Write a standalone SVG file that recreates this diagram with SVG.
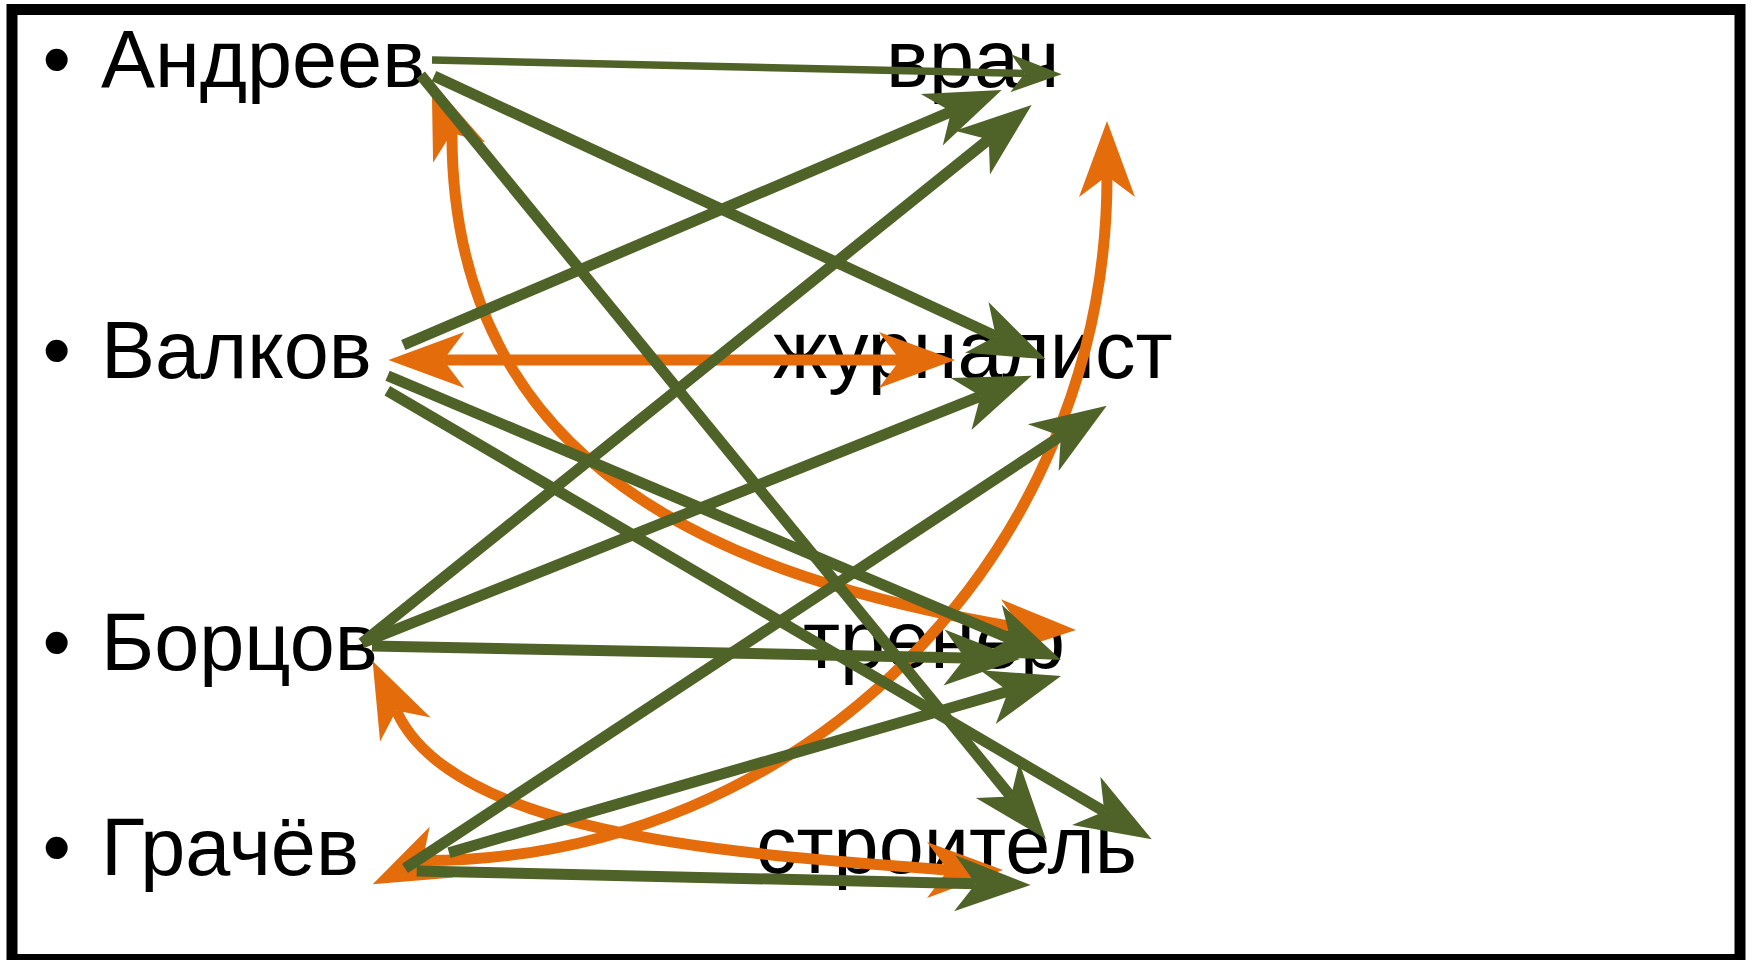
<svg xmlns="http://www.w3.org/2000/svg" width="1754" height="960" viewBox="0 0 1754 960">
  <style>
    .lbl { font-family: "Liberation Sans", Arial, sans-serif; font-size: 81px; fill: #000000; }
    .g { fill: none; stroke: #4F6228; stroke-width: 11; marker-end: url(#ag); }
    .gt { fill: none; stroke: #4F6228; stroke-width: 7.5; marker-end: url(#ags); }
    .o { fill: none; stroke: #E46C0A; stroke-width: 11; marker-start: url(#ao); marker-end: url(#ao); }
  </style>
  <defs>
    <marker id="ag" viewBox="-21 -28 76 56" refX="0" refY="0" markerWidth="76" markerHeight="56" markerUnits="userSpaceOnUse" orient="auto-start-reverse" overflow="visible">
      <path d="M55,0 L-21,-28 L0,0 L-21,28 Z" fill="#4F6228"/>
    </marker>
    <marker id="ags" viewBox="-14 -19 51 38" refX="0" refY="0" markerWidth="51" markerHeight="38" markerUnits="userSpaceOnUse" orient="auto-start-reverse" overflow="visible">
      <path d="M37,0 L-14,-19 L0,0 L-14,19 Z" fill="#4F6228"/>
    </marker>
    <marker id="ao" viewBox="-21 -28 76 56" refX="0" refY="0" markerWidth="76" markerHeight="56" markerUnits="userSpaceOnUse" orient="auto-start-reverse" overflow="visible">
      <path d="M55,0 L-21,-28 L0,0 L-21,28 Z" fill="#E46C0A"/>
    </marker>
  </defs>
  <rect x="0" y="0" width="1754" height="960" fill="#FFFFFF"/>
  <rect id="frame" x="12" y="9.5" width="1728" height="950" fill="none" stroke="#000000" stroke-width="11"/>

  <g id="andreev"><text class="lbl" x="42.5" y="87">•</text><text class="lbl" x="101" y="87">Андреев</text></g>
  <g id="valkov"><text class="lbl" x="42.5" y="378">•</text><text class="lbl" x="101" y="378">Валков</text></g>
  <g id="bortsov"><text class="lbl" x="42.5" y="670">•</text><text class="lbl" x="101" y="670">Борцов</text></g>
  <g id="grachev"><text class="lbl" x="42.5" y="875">•</text><text class="lbl" x="101" y="875">Грачёв</text></g>

  <g id="vrach"><text class="lbl" x="886" y="87">врач</text></g>
  <g id="zhurnalist"><text class="lbl" x="773" y="378">журналист</text></g>
  <g id="trener"><text class="lbl" x="803" y="668">тренер</text></g>
  <g id="stroitel"><text class="lbl" x="756" y="873">строитель</text></g>

  <g id="connectors">
    <path class="o" d="M443.4,360 L900,360"/>
    <path class="o" d="M451.6,133 l0.36,0.93 C452,467 720,578 1020,628 l1,0.035"/>
    <path class="o" d="M422.5,861 l0.906,-0.424 C802,861 1107,554 1107,177 l0,-1"/>
    <path class="o" d="M396.3,710.6 l0.43,0.9 C455,840 760,855 947,870 l1,0"/>

    <path class="gt" d="M432,60 L1024.7,73.5"/>
    <path class="g" d="M434,76 L995.8,336.2"/>
    <path class="g" d="M420.7,75 L1010.9,796.4"/>
    <path class="g" d="M403.3,345 L951.1,111.6"/>
    <path class="g" d="M387.6,375.7 L1010.3,638.6"/>
    <path class="g" d="M387.3,390.7 L1104.3,811.5"/>
    <path class="g" d="M362,643 L988.8,139.4"/>
    <path class="g" d="M362,643 L980.6,396.1"/>
    <path class="g" d="M372,646 L965,657.9"/>
    <path class="g" d="M405,868.3 L1060.8,436"/>
    <path class="g" d="M449,852.7 L1008.2,691.3"/>
    <path class="g" d="M416.7,871 L975.7,883.7"/>
  </g>
</svg>
